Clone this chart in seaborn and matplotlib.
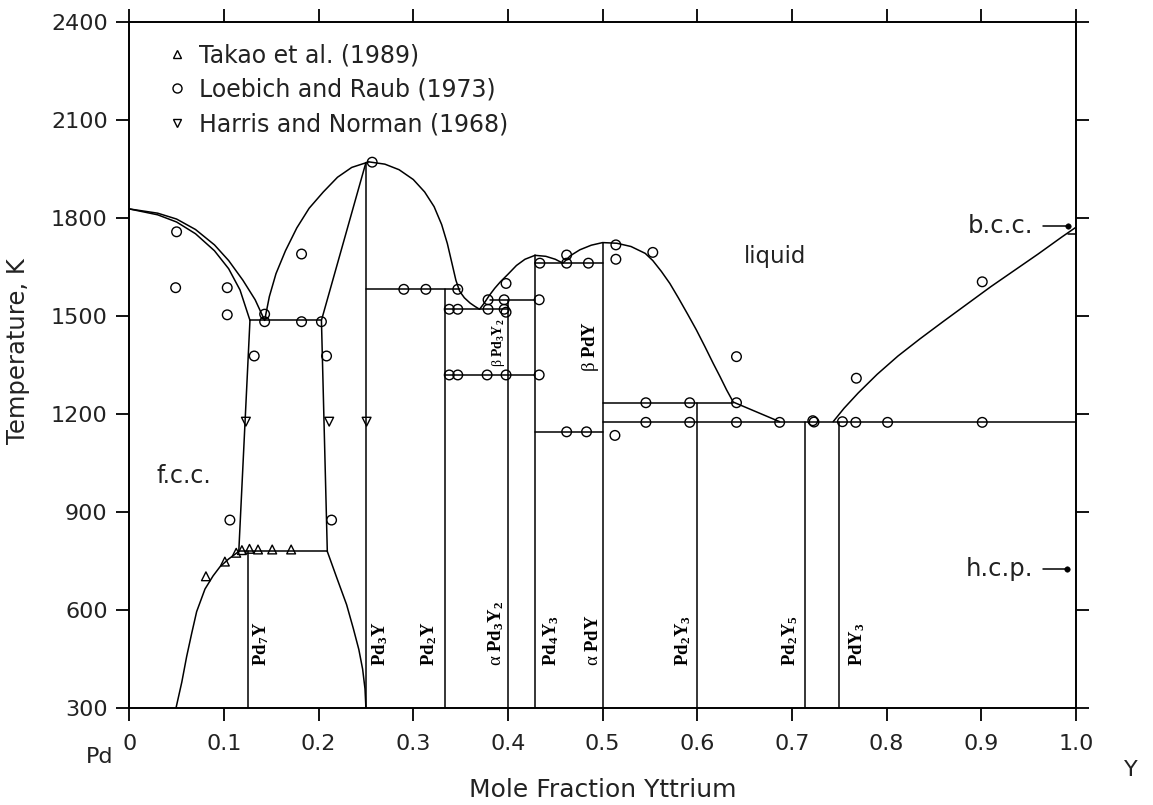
import numpy as np
import pandas as pd
import matplotlib
matplotlib.use("Agg")
import matplotlib.pyplot as plt
import seaborn as sns
from matplotlib.lines import Line2D
from matplotlib.markers import MarkerStyle

# ---------------- phase boundaries: mole fraction Y, temperature K ----------------
liq_pd_x = [0.000, 0.030, 0.050, 0.070, 0.090, 0.105, 0.120, 0.133, 0.143]
liq_pd_T = [1828, 1815, 1797, 1765, 1718, 1670, 1610, 1550, 1487]

sol_fcc_x = [0.000, 0.030, 0.050, 0.070, 0.090, 0.105, 0.117, 0.1275]
sol_fcc_T = [1828, 1810, 1788, 1752, 1700, 1645, 1580, 1487]

solvus_fcc_x = [0.1275, 0.1157]
solvus_fcc_T = [1487, 780]

pd7y_dome_x = [0.0493, 0.0555, 0.0606, 0.066, 0.0712, 0.080, 0.0885, 0.0958, 0.105, 0.1134, 0.1157]
pd7y_dome_T = [300, 380, 458, 530, 596, 665, 705, 733, 757, 775, 780]

ord_line_x = [0.1157, 0.2092]
ord_line_T = [780, 780]

pd3y_low_x = [0.2092, 0.219, 0.2296, 0.2366, 0.2425, 0.2465, 0.249, 0.250]
pd3y_low_T = [780, 701, 617, 545, 480, 420, 360, 300]

pd3y_left_x = [0.2092, 0.203, 0.250]
pd3y_left_T = [780, 1487, 1970]

eut1_x = [0.1275, 0.203]
eut1_T = [1487, 1487]

liq_pd3y_l_x = [0.143, 0.148, 0.155, 0.165, 0.177, 0.190, 0.205, 0.220, 0.235, 0.253]
liq_pd3y_l_T = [1487, 1560, 1630, 1700, 1770, 1830, 1880, 1925, 1955, 1972]

liq_pd3y_r_x = [0.253, 0.270, 0.285, 0.300, 0.312, 0.322, 0.330, 0.336, 0.341, 0.345,
                0.349, 0.354, 0.360, 0.365, 0.370]
liq_pd3y_r_T = [1972, 1965, 1948, 1918, 1880, 1835, 1780, 1722, 1660, 1610,
                1576, 1556, 1540, 1530, 1521]

liq_mid_x = [0.370, 0.375, 0.380, 0.386, 0.392, 0.400, 0.409, 0.418, 0.4286, 0.440,
             0.450, 0.458, 0.466, 0.476, 0.488, 0.500, 0.515, 0.530, 0.545, 0.553,
             0.562, 0.571, 0.580, 0.590, 0.599, 0.608, 0.6167, 0.624, 0.631, 0.638,
             0.687]
liq_mid_T = [1521, 1540, 1562, 1585, 1605, 1628, 1655, 1674, 1686, 1683,
             1674, 1662, 1685, 1703, 1717, 1725, 1723, 1713, 1692, 1670,
             1637, 1600, 1556, 1505, 1458, 1407, 1356, 1315, 1274, 1237,
             1177]

liq_y_x = [0.7435, 0.755, 0.770, 0.790, 0.812, 0.835, 0.860, 0.885, 0.910, 0.935,
           0.960, 0.985, 1.000]
liq_y_T = [1177, 1218, 1265, 1322, 1378, 1430, 1484, 1537, 1590, 1640,
           1690, 1742, 1772]

# invariant horizontals: (x_start, x_end, T)
iso_x0 = [0.250, 0.3333, 0.381, 0.3333, 0.4286, 0.4286, 0.500, 0.500, 0.992]
iso_x1 = [0.349, 0.400, 0.4286, 0.4286, 0.500, 0.500, 0.638, 1.000, 1.000]
iso_T = [1582, 1521, 1550, 1320, 1662, 1146, 1235, 1175, 1752]

# compound lines: composition and upper temperature
cmp_x = [0.125, 0.250, 0.3333, 0.400, 0.4286, 0.500, 0.600, 0.7143, 0.750]
cmp_top = [780, 1970, 1582, 1550, 1686, 1725, 1235, 1175, 1175]

# pure-Y allotrope marks
bcc_x = [0.965, 0.992]
bcc_T = [1775, 1775]
hcp_x = [0.965, 0.990]
hcp_T = [725, 725]

# ---------------- experimental points ----------------
takao_x = [0.081, 0.101, 0.113, 0.119, 0.127, 0.136, 0.151, 0.171]
takao_T = [704, 749, 776, 784, 788, 786, 786, 786]

loebich_x = [0.050, 0.049, 0.1035, 0.1035, 0.143, 0.143, 0.182, 0.203, 0.182, 0.132,
             0.2084, 0.1063, 0.2137, 0.2566,
             0.290, 0.3133, 0.347,
             0.338, 0.347, 0.379, 0.396, 0.398, 0.379, 0.396, 0.398, 0.433,
             0.338, 0.347, 0.378, 0.398, 0.433,
             0.4337, 0.462, 0.462, 0.485, 0.514, 0.514, 0.553,
             0.462, 0.483, 0.513,
             0.5457, 0.592, 0.6414, 0.6414,
             0.5457, 0.592, 0.6414, 0.687, 0.722, 0.7233, 0.7533, 0.7674, 0.801, 0.901,
             0.768, 0.901]
loebich_T = [1758, 1587, 1587, 1504, 1506, 1483, 1483, 1483, 1690, 1378,
             1378, 876, 876, 1971,
             1582, 1582, 1582,
             1521, 1521, 1521, 1521, 1512, 1550, 1550, 1600, 1550,
             1320, 1320, 1320, 1320, 1320,
             1662, 1662, 1687, 1662, 1718, 1674, 1695,
             1146, 1146, 1135,
             1235, 1235, 1235, 1376,
             1175, 1175, 1175, 1175, 1180, 1176, 1177, 1175, 1175, 1175,
             1310, 1605]

harris_x = [0.1232, 0.2112, 0.2507]
harris_T = [1177, 1177, 1177]

pure_y_x = [0.992, 0.990]
pure_y_T = [1775, 725]

# ---------------- labels ----------------
cmp_labels = [r"$\mathbf{Pd_7Y}$", r"$\mathbf{Pd_3Y}$", r"$\mathbf{Pd_2Y}$",
              r"$\mathrm{\alpha}\ \mathbf{Pd_3Y_2}$", r"$\mathbf{Pd_4Y_3}$",
              r"$\mathrm{\alpha}\ \mathbf{PdY}$", r"$\mathbf{Pd_2Y_3}$",
              r"$\mathbf{Pd_2Y_5}$", r"$\mathbf{PdY_3}$"]
cmp_label_x = [0.139, 0.265, 0.317, 0.388, 0.446, 0.489, 0.585, 0.698, 0.769]
legend_labels = ["Takao et al. (1989)", "Loebich and Raub (1973)", "Harris and Norman (1968)"]
x_ticks = [0, 0.1, 0.2, 0.3, 0.4, 0.5, 0.6, 0.7, 0.8, 0.9, 1.0]
x_tick_labels = ["0", "0.1", "0.2", "0.3", "0.4", "0.5", "0.6", "0.7", "0.8", "0.9", "1.0"]
y_ticks = [300, 600, 900, 1200, 1500, 1800, 2100, 2400]

# ---------------- style ----------------
sns.set_style("ticks")
plt.rcParams.update({
    "font.family": ["DejaVu Sans"],
    "axes.linewidth": 1.4,
    "axes.edgecolor": "black",
    "mathtext.fontset": "custom",
    "mathtext.rm": "Liberation Serif",
    "mathtext.bf": "Liberation Serif:bold",
    "mathtext.it": "Liberation Serif:italic",
})

fig = plt.figure(figsize=(11.53, 8.05), dpi=100)
ax = fig.add_axes([0.1121, 0.1201, 0.8211, 0.8526])

# assemble all boundary segments into one long table
segs = []
def add(name, xs, ts):
    segs.append(pd.DataFrame({"x": xs, "T": ts, "seg": name}))

add("liq_pd", liq_pd_x, liq_pd_T)
add("sol_fcc", sol_fcc_x, sol_fcc_T)
add("solvus", solvus_fcc_x, solvus_fcc_T)
add("dome", pd7y_dome_x, pd7y_dome_T)
add("ord", ord_line_x, ord_line_T)
add("pd3y_low", pd3y_low_x, pd3y_low_T)
add("pd3y_left", pd3y_left_x, pd3y_left_T)
add("eut1", eut1_x, eut1_T)
add("liq_l", liq_pd3y_l_x, liq_pd3y_l_T)
add("liq_r", liq_pd3y_r_x, liq_pd3y_r_T)
add("liq_mid", liq_mid_x, liq_mid_T)
add("liq_y", liq_y_x, liq_y_T)
for i, (a, b, t) in enumerate(zip(iso_x0, iso_x1, iso_T)):
    add(f"iso{i}", [a, b], [t, t])
for i, (c, top) in enumerate(zip(cmp_x, cmp_top)):
    add(f"cmp{i}", [c, c], [300, top])
add("bcc", bcc_x, bcc_T)
add("hcp", hcp_x, hcp_T)
lines = pd.concat(segs, ignore_index=True)

sns.lineplot(data=lines, x="x", y="T", units="seg", estimator=None, sort=False,
             color="black", linewidth=1.1, ax=ax, legend=False)

open_o = MarkerStyle("o", fillstyle="none")
open_up = MarkerStyle("^", fillstyle="none")
open_dn = MarkerStyle("v", fillstyle="none")

sns.scatterplot(x=loebich_x, y=loebich_T, marker=open_o, color="black", s=48,
                linewidth=1.0, ax=ax, legend=False, zorder=3)
sns.scatterplot(x=takao_x, y=takao_T, marker=open_up, color="black", s=40,
                linewidth=1.0, ax=ax, legend=False, zorder=3)
sns.scatterplot(x=harris_x, y=harris_T, marker=open_dn, color="black", s=40,
                linewidth=1.0, ax=ax, legend=False, zorder=3)
sns.scatterplot(x=pure_y_x, y=pure_y_T, marker="o", color="black", edgecolor="black",
                s=16, ax=ax, legend=False, zorder=3)

# axes, ticks
ax.set_xlim(0, 1.0)
ax.set_ylim(300, 2400)
ax.set_xticks(x_ticks)
ax.set_xticklabels(x_tick_labels)
ax.set_yticks(y_ticks)
ax.tick_params(axis="both", which="major", direction="out", length=9.5, width=1.3,
               labelsize=16, top=True, right=True, labeltop=False, labelright=False,
               color="black", labelcolor="#222222")
ax.tick_params(axis="x", pad=9)
ax.tick_params(axis="y", pad=6)
ax.set_xlabel("")
ax.set_ylabel("")
for s in ax.spines.values():
    s.set_visible(True)
    s.set_linewidth(1.4)

ax.text(0.5, -0.119, "Mole Fraction Yttrium", transform=ax.transAxes,
        ha="center", va="center", fontsize=18, color="#222222")
ax.text(-0.118, 0.52, "Temperature, K", transform=ax.transAxes, rotation=90,
        ha="center", va="center", fontsize=17.5, color="#222222")
ax.text(-0.031, -0.071, "Pd", transform=ax.transAxes, ha="center", va="center",
        fontsize=16, color="#222222")
ax.text(1.058, -0.090, "Y", transform=ax.transAxes, ha="center", va="center",
        fontsize=16, color="#222222")

# phase-field labels
ax.text(0.058, 1010, "f.c.c.", ha="center", va="center", fontsize=17, color="#222222")
ax.text(0.682, 1683, "liquid", ha="center", va="center", fontsize=16.5, color="#222222")
ax.text(0.955, 1775, "b.c.c.", ha="right", va="center", fontsize=17.5, color="#222222")
ax.text(0.955, 725, "h.c.p.", ha="right", va="center", fontsize=17.5, color="#222222")

for lab, xl in zip(cmp_labels, cmp_label_x):
    ax.text(xl, 428, lab, rotation=90, ha="center", va="bottom", fontsize=13.5,
            color="black")
ax.text(0.4873, 1330, r"$\mathrm{\beta}\ \mathbf{PdY}$", rotation=90, ha="center",
        va="bottom", fontsize=13.5, color="black")
ax.text(0.3905, 1345, r"$\mathrm{\beta}\ \mathbf{Pd_3Y_2}$", rotation=90, ha="center",
        va="bottom", fontsize=10, color="black")

# legend
handles = [
    Line2D([], [], ls="none", marker="^", fillstyle="none", color="black", ms=6, mew=1.0),
    Line2D([], [], ls="none", marker="o", fillstyle="none", color="black", ms=6.5, mew=1.0),
    Line2D([], [], ls="none", marker="v", fillstyle="none", color="black", ms=6, mew=1.0),
]
leg = ax.legend(handles, legend_labels, loc="upper left", bbox_to_anchor=(0.026, 0.99),
                frameon=False, fontsize=17, handlelength=0.8, handletextpad=0.5,
                labelspacing=0.45, borderaxespad=0.2)
for t in leg.get_texts():
    t.set_color("#222222")

fig.savefig("out.png", dpi=100)
